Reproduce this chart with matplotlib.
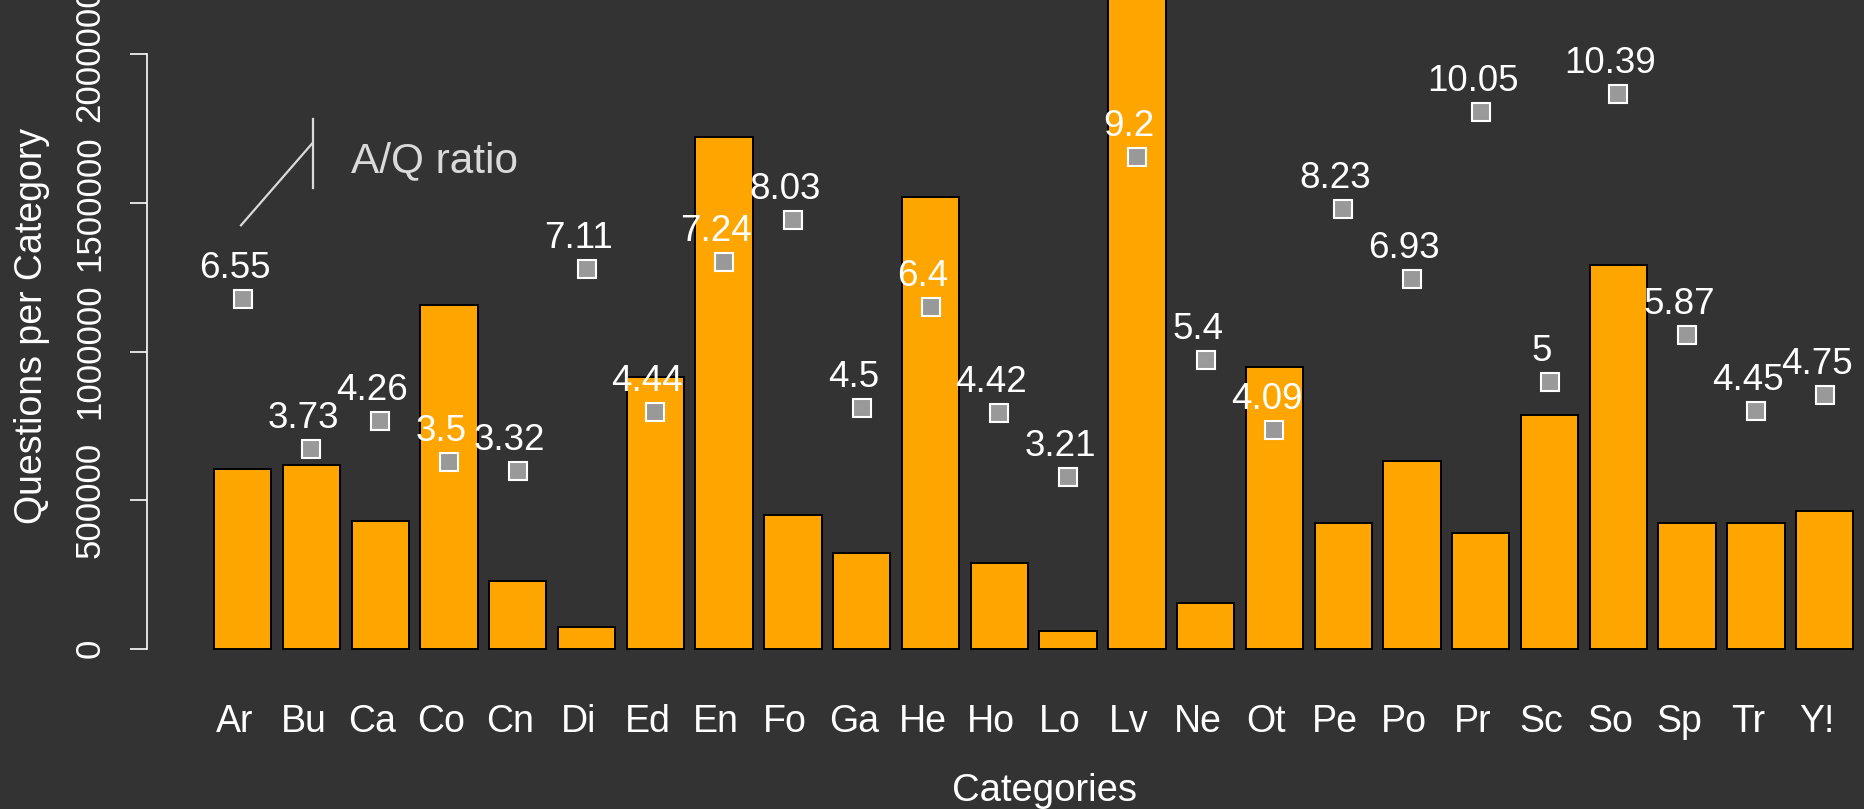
import matplotlib
matplotlib.use("Agg")
import matplotlib.pyplot as plt
from matplotlib.lines import Line2D
from matplotlib.transforms import ScaledTranslation

plt.rcParams['font.family'] = ['Liberation Sans', 'DejaVu Sans']

categories = ["Ar", "Bu", "Ca", "Co", "Cn", "Di", "Ed", "En", "Fo", "Ga", "He", "Ho",
              "Lo", "Lv", "Ne", "Ot", "Pe", "Po", "Pr", "Sc", "So", "Sp", "Tr", "Y!"]
questions = [605000, 618500, 430000, 1155000, 229000, 74000, 915000, 1722000, 450000,
             323000, 1521000, 288600, 59600, 2600000, 154000, 948000, 423000, 632000,
             390000, 787000, 1290000, 423000, 423000, 462600]
aq_ratio = [6.55, 3.73, 4.26, 3.5, 3.32, 7.11, 4.44, 7.24, 8.03, 4.5, 6.4, 4.42,
            3.21, 9.2, 5.4, 4.09, 8.23, 6.93, 10.05, 5, 10.39, 5.87, 4.45, 4.75]
y_ticks = [0, 500000, 1000000, 1500000, 2000000]

BG = "#333333"
W, H = 1864, 809
ratio_scale = 179700  # questions-axis units per 1.0 of A/Q ratio

fig = plt.figure(figsize=(W / 100, H / 100), dpi=100, facecolor=BG)
ax_left, ax_bottom = 147, 680
ax = fig.add_axes([ax_left / W, (H - ax_bottom) / H, (W - ax_left) / W, ax_bottom / H])
ax.set_facecolor(BG)

# R barplot style positions: width 1, space 0.2
xpos = [0.7 + 1.2 * i for i in range(len(categories))]
ax.bar(xpos, questions, width=1.0, color="#FFA500", edgecolor="black", linewidth=1.4, zorder=2)

px_per_unit = 57.32
ax.set_xlim(0.2 - (214 - ax_left) / px_per_unit, 0.2 + (W - 214) / px_per_unit)
y_per_px = 1e6 / 297.2
ax.set_ylim(-(ax_bottom - 648.7) * y_per_px, 648.7 * y_per_px)

for s in ["top", "right", "bottom"]:
    ax.spines[s].set_visible(False)
ax.spines["left"].set_color("white")
ax.spines["left"].set_linewidth(1.2)
ax.spines["left"].set_bounds(0, 2000000)

ax.set_yticks(y_ticks)
ax.set_yticklabels([str(v) for v in y_ticks], rotation=90, va="center")
ax.tick_params(axis="y", colors="white", length=12, width=1.2, pad=17, labelsize=25)
ax.set_xticks(xpos)
ax.set_xticklabels(categories)
ax.tick_params(axis="x", length=0, pad=17, labelsize=27, labelcolor="white")
shift = ScaledTranslation(-8 / 100, 0, fig.dpi_scale_trans)
for lbl in ax.get_xticklabels():
    lbl.set_transform(lbl.get_transform() + shift)

ax.set_ylabel("Questions per Category", color="white", fontsize=27)
ax.yaxis.label.set_va("center")
ax.yaxis.set_label_coords((32 - ax_left) / (W - ax_left), (ax_bottom - 326) / ax_bottom)
ax.set_xlabel("Categories", color="white", fontsize=27.5)
ax.xaxis.label.set_va("center")
ax.xaxis.set_label_coords((1044 - ax_left) / (W - ax_left), (ax_bottom - 791) / ax_bottom)

# ratio on its own scale, overlaid
ax2 = ax.twinx()
lo, hi = ax.get_ylim()
ax2.set_ylim(lo / ratio_scale, hi / ratio_scale)
ax2.axis("off")
ax2.plot(xpos, aq_ratio, linestyle="none", marker="s", markersize=12.5,
         markerfacecolor="#999999", markeredgecolor="white", markeredgewidth=1.5, zorder=3)
for x, r in zip(xpos, aq_ratio):
    ax2.annotate(f"{r:g}", (x, r), xytext=(-8, 21), textcoords="offset pixels",
                 ha="center", va="baseline", color="white", fontsize=26.5)

# hand drawn legend key
leg_col = "#DADADA"
fig.add_artist(Line2D([241 / W, 312.3 / W], [1 - 225.3 / H, 1 - 143.3 / H],
                      color=leg_col, lw=1.6, transform=fig.transFigure))
fig.add_artist(Line2D([313.3 / W, 313.3 / W], [1 - 119 / H, 1 - 188.3 / H],
                      color=leg_col, lw=1.6, transform=fig.transFigure))
fig.text(351 / W, 1 - 172.3 / H, "A/Q ratio", color=leg_col, fontsize=30.5,
         ha="left", va="baseline")

fig.savefig("out.png", dpi=100, facecolor=BG)
